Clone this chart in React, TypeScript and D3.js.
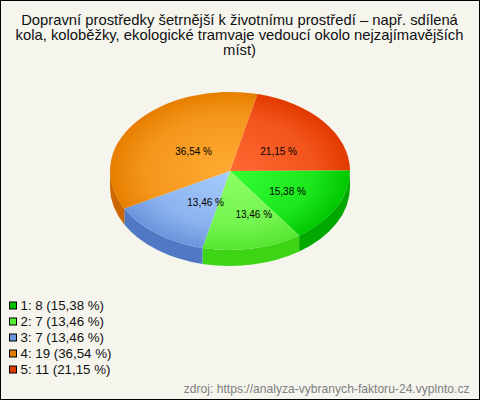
import React from "react";
import * as d3 from "d3";

const W = 480, H = 400;
const titleLines = [
  "Dopravní prostředky šetrnější k životnímu prostředí – např. sdílená",
  "kola, koloběžky, ekologické tramvaje vedoucí okolo nejzajímavějších",
  "míst)",
];
const categories = ["1", "2", "3", "4", "5"];
const values = [8, 7, 7, 19, 11];
const percents = ["15,38 %", "13,46 %", "13,46 %", "36,54 %", "21,15 %"];
const centerColors = ["#33ff33", "#8cff66", "#a8ccff", "#ffab33", "#ff6a33"];
const edgeColors = ["#00c800", "#55e630", "#6a94dc", "#e67e00", "#e23a00"];
const sideColors = ["#00a800", "#3dd416", "#5078c4", "#cc6600", "#cc3300"];
const legendColors = ["#00c000", "#55ee33", "#6a94dc", "#e07c00", "#e03a00"];
const source = "zdroj: https://analyza-vybranych-faktoru-24.vyplnto.cz";

const labelNudgeX = [3, 7, 2, 0, 0];
const labelNudgeY = [-3, 0, -5, 0, 0];

const cx = 230, cy = 171, rx = 120, ry = 79, depth = 16;
const font = "'Liberation Sans', Arial, sans-serif";

const rot = -0.01;
const pie = d3.pie<number>().sort(null).startAngle(Math.PI / 2 + rot).endAngle(Math.PI * 2.5 + rot);
const arcs = pie(values);
const arc = d3.arc<d3.PieArcDatum<number>>().innerRadius(0).outerRadius(rx);
const sy = ry / rx;

const rim = (a: number, dy = 0): [number, number] => [
  cx + rx * Math.sin(a),
  cy - ry * Math.cos(a) + dy,
];

function sidePath(a0: number, a1: number): string | null {
  const s = Math.max(a0, Math.PI / 2);
  const e = Math.min(a1, (3 * Math.PI) / 2);
  if (e <= s) return null;
  const [x0, y0] = rim(s);
  const [x1, y1] = rim(e);
  return `M${x0},${y0}A${rx},${ry} 0 0 1 ${x1},${y1}L${x1},${y1 + depth}A${rx},${ry} 0 0 0 ${x0},${y0 + depth}Z`;
}

export default function App() {
  return (
    <svg
      width={W}
      height={H}
      viewBox={`0 0 ${W} ${H}`}
      style={{ position: "absolute", left: 0, top: 0, display: "block" }}
    >
      <defs>
        {categories.map((c, i) => (
          <radialGradient
            key={c}
            id={`g${i}`}
            gradientUnits="userSpaceOnUse"
            cx={0}
            cy={0}
            r={rx}
          >
            <stop offset="0" stopColor={centerColors[i]} />
            <stop offset="0.7" stopColor={d3.interpolateRgb(centerColors[i], edgeColors[i])(0.45)} />
            <stop offset="1" stopColor={edgeColors[i]} />
          </radialGradient>
        ))}
      </defs>
      <rect x={0.5} y={0.5} width={W - 1} height={H - 1} fill="#f5f5ee" stroke="#000" strokeWidth={1} />
      <g fontFamily={font} fontSize={14.8} textAnchor="middle" fill="#111">
        {titleLines.map((t, i) => (
          <text key={i} x={239.5} y={25 + i * 15}>{t}</text>
        ))}
      </g>
      {arcs.map((d, i) => {
        const p = sidePath(d.startAngle, d.endAngle);
        return p ? <path key={i} d={p} fill={sideColors[i]} /> : null;
      })}
      <g transform={`translate(${cx},${cy}) scale(1,${sy})`}>
        {arcs.map((d, i) => (
          <path key={i} d={arc(d) as string} fill={`url(#g${i})`} />
        ))}
      </g>
      <g fontFamily={font} fontSize={10} textAnchor="middle" fill="#000">
        {arcs.map((d, i) => {
          const mid = (d.startAngle + d.endAngle) / 2;
          const x = cx + 0.45 * rx * Math.sin(mid) + 6.5 + labelNudgeX[i];
          const y = cy - 0.5 * ry * Math.cos(mid) + 5 + 3.5 + labelNudgeY[i];
          return <text key={i} x={x} y={y}>{percents[i]}</text>;
        })}
      </g>
      {categories.map((c, i) => {
        const y = 306 + i * 16;
        return (
          <g key={c}>
            <rect x={9.5} y={y - 4} width={7} height={7} fill={legendColors[i]} stroke="#000" strokeWidth={1} />
            <text x={20.5} y={y + 4} fontFamily={font} fontSize={13.3} fill="#111">
              {`${c}: ${values[i]} (${percents[i]})`}
            </text>
          </g>
        );
      })}
      <text x={469.5} y={392.5} textAnchor="end" fontFamily={font} fontSize={12.1} fill="#808080">{source}</text>
    </svg>
  );
}
